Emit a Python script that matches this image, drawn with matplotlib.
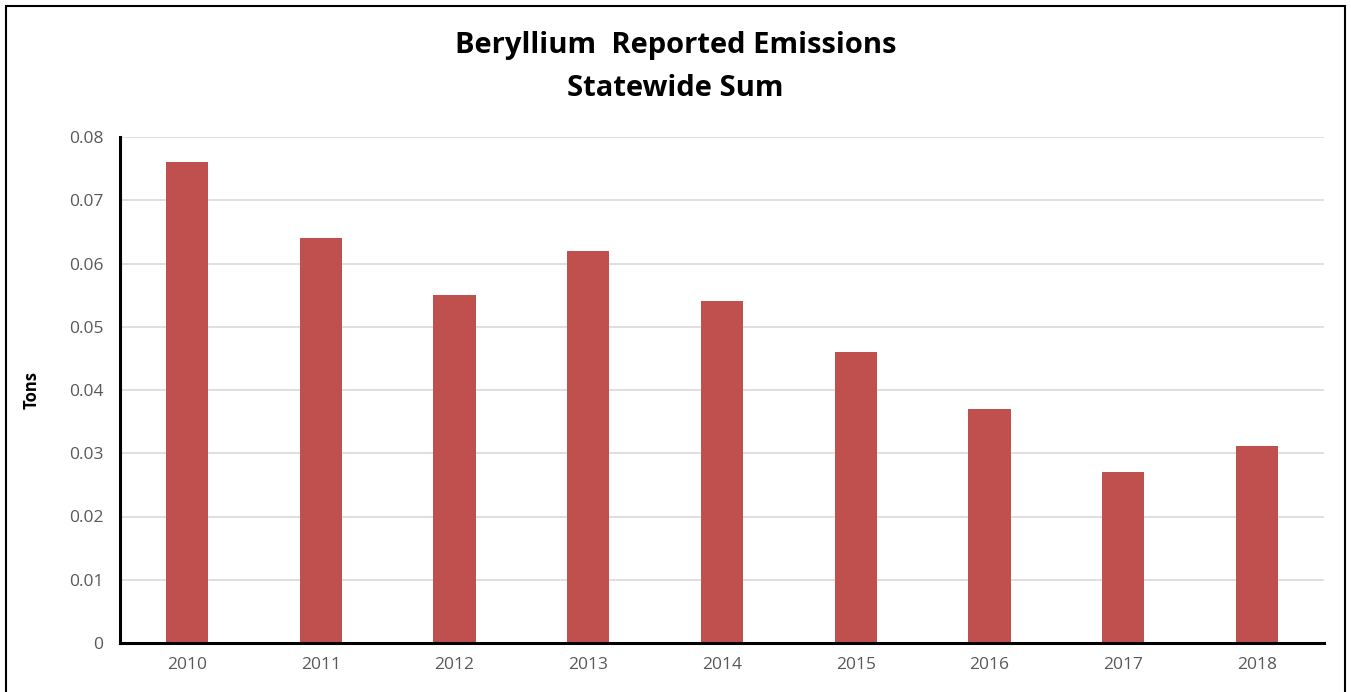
import matplotlib.pyplot as plt
from matplotlib.patches import Rectangle

years = ["2010", "2011", "2012", "2013", "2014", "2015", "2016", "2017", "2018"]
emissions = [0.076, 0.064, 0.055, 0.062, 0.054, 0.046, 0.037, 0.027, 0.0312]
yticks = [0, 0.01, 0.02, 0.03, 0.04, 0.05, 0.06, 0.07, 0.08]

BAR = "#C0504D"
GRID = "#D9D9D9"
TICK = "#595959"

plt.rcParams.update({"font.family": ["Open Sans", "DejaVu Sans"]})

fig = plt.figure(figsize=(13.51, 6.92), dpi=100)
ax = fig.add_axes([120 / 1351, 1 - 643 / 692, (1324 - 120) / 1351, (643 - 137) / 692])

x = range(len(years))
ax.bar(x, emissions, width=0.315, color=BAR, zorder=2)

ax.set_xlim(-0.5, len(years) - 0.5)
ax.set_ylim(0, 0.08)
ax.set_yticks(yticks)
ax.set_yticklabels([f"{t:g}" for t in yticks], fontsize=12.5, color=TICK)
ax.set_xticks(list(x))
ax.set_xticklabels(years, fontsize=12.5, color=TICK)
ax.tick_params(length=0, pad=12)
ax.tick_params(axis="x", pad=10)

ax.grid(axis="y", color=GRID, linewidth=1.2, zorder=0)
ax.set_axisbelow(True)
for s in ("top", "right"):
    ax.spines[s].set_visible(False)
for s in ("left", "bottom"):
    ax.spines[s].set_linewidth(2.2)
    ax.spines[s].set_color("black")

ax.set_ylabel("Tons", fontsize=12, weight="bold", labelpad=20)

fig.text(0.5, 1 - 45 / 692, "Beryllium  Reported Emissions", ha="center", va="center",
         fontsize=21, weight="bold")
fig.text(0.5, 1 - 88 / 692, "Statewide Sum", ha="center", va="center",
         fontsize=21, weight="bold")

# outer chart frame (bottom edge falls outside the image)
fig.patches.append(Rectangle((6 / 1351, -0.05), (1345 - 6) / 1351, 1.05 - 6 / 692,
                             transform=fig.transFigure, fill=False,
                             edgecolor="black", linewidth=1.5))

fig.savefig("out.png", dpi=100)
